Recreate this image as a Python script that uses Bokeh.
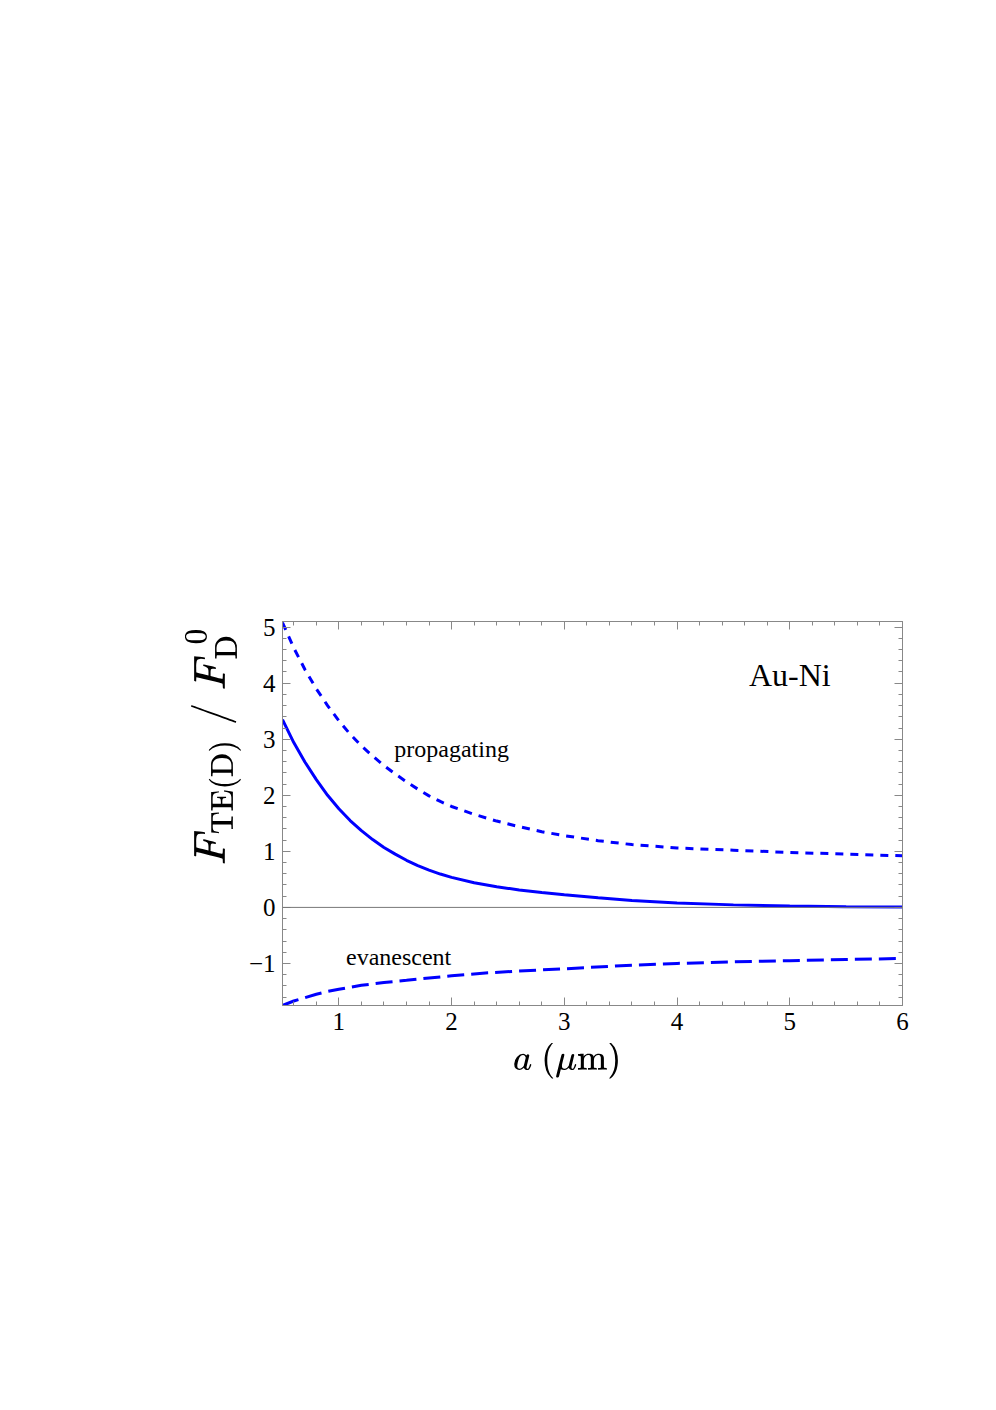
from bokeh.plotting import figure
from bokeh.models import Range1d, FixedTicker, LinearAxis, Span, Label, TeX
from bokeh.embed import file_html
from bokeh.resources import INLINE

# ---- data ----
a_total = [0.5, 0.6, 0.7, 0.8, 0.9, 1.0, 1.1, 1.2, 1.3, 1.4, 1.5, 1.6, 1.7, 1.8, 1.9, 2.0, 2.2, 2.4, 2.6, 2.8, 3.0, 3.3, 3.6, 4.0, 4.5, 5.0, 5.5, 6.0]
f_total = [3.35, 2.94, 2.59, 2.28, 2.00, 1.76, 1.55, 1.37, 1.21, 1.07, 0.95, 0.84, 0.745, 0.665, 0.595, 0.535, 0.44, 0.37, 0.31, 0.265, 0.225, 0.17, 0.125, 0.08, 0.045, 0.025, 0.013, 0.007]

a_prop = [0.5, 0.6, 0.7, 0.8, 0.9, 1.0, 1.1, 1.2, 1.3, 1.4, 1.5, 1.6, 1.7, 1.8, 1.9, 2.0, 2.2, 2.4, 2.6, 2.8, 3.0, 3.3, 3.6, 4.0, 4.5, 5.0, 5.5, 6.0]
f_prop = [5.08, 4.63, 4.24, 3.90, 3.60, 3.33, 3.09, 2.88, 2.70, 2.53, 2.38, 2.24, 2.11, 1.99, 1.89, 1.80, 1.66, 1.54, 1.44, 1.35, 1.28, 1.19, 1.12, 1.06, 1.02, 0.98, 0.95, 0.92]

a_evan = [0.5, 0.6, 0.7, 0.8, 0.9, 1.0, 1.2, 1.4, 1.6, 1.8, 2.0, 2.3, 2.6, 3.0, 3.5, 4.0, 4.5, 5.0, 5.5, 6.0]
f_evan = [-1.75, -1.67, -1.61, -1.55, -1.50, -1.46, -1.39, -1.34, -1.30, -1.26, -1.22, -1.17, -1.135, -1.095, -1.04, -1.00, -0.97, -0.95, -0.93, -0.91]

x_ticks = [1, 2, 3, 4, 5, 6]
y_ticks = [-1, 0, 1, 2, 3, 4, 5]
y_tick_labels = {-1: "\u22121", 0: "0", 1: "1", 2: "2", 3: "3", 4: "4", 5: "5"}

FONT = "Liberation Serif"
BLUE = "#0000ff"
GRAY = "#888888"

p = figure(output_backend="svg", toolbar_location=None,
           x_range=Range1d(0.5, 6.0), y_range=Range1d(-1.75, 5.1),
           frame_width=620, frame_height=384,
           min_border_left=282, min_border_top=621, min_border_right=20, min_border_bottom=100,
           x_axis_location=None, y_axis_location=None)
p.grid.visible = False
p.outline_line_color = GRAY
p.outline_line_width = 1
p.background_fill_color = "white"
p.border_fill_color = "white"

x_minor = [round(0.6 + 0.2 * i, 2) for i in range(28) if round(0.6 + 0.2 * i, 2) <= 6.0]
y_minor = [round(-1.6 + 0.2 * i, 2) for i in range(34) if round(-1.6 + 0.2 * i, 2) <= 5.1]


def style_axis(ax, show_labels):
    ax.axis_line_color = GRAY
    ax.major_tick_line_color = GRAY
    ax.minor_tick_line_color = GRAY
    ax.major_tick_in = 8
    ax.major_tick_out = 0
    ax.minor_tick_in = 4
    ax.minor_tick_out = 0
    ax.major_label_text_font = FONT
    ax.major_label_text_font_size = "25px"
    ax.major_label_text_color = "black" if show_labels else None
    ax.major_label_standoff = 7


xb = LinearAxis(ticker=FixedTicker(ticks=x_ticks, minor_ticks=x_minor))
style_axis(xb, True)
xb.axis_label = TeX(r"a\ (\mu\mathrm{m})\hspace{1.4em}")
xb.axis_label_text_font_size = "30px"
xb.axis_label_text_color = "black"
xb.axis_label_standoff = 10
p.add_layout(xb, "below")

xt = LinearAxis(ticker=FixedTicker(ticks=x_ticks, minor_ticks=x_minor))
style_axis(xt, False)
p.add_layout(xt, "above")

yl = LinearAxis(ticker=FixedTicker(ticks=y_ticks, minor_ticks=y_minor))
style_axis(yl, True)
yl.major_label_overrides = y_tick_labels
yl.axis_label = TeX(r"\hspace{3.0em}F_{\mathrm{TE(D)}}\;/\;F_{\mathrm{D}}^{\,0}")
yl.axis_label_text_font_size = "36px"
yl.axis_label_text_color = "black"
yl.axis_label_standoff = 5
p.add_layout(yl, "left")

yr = LinearAxis(ticker=FixedTicker(ticks=y_ticks, minor_ticks=y_minor))
style_axis(yr, False)
p.add_layout(yr, "right")

p.add_layout(Span(location=0, dimension="width", line_color="#777777", line_width=1))

p.line(a_prop, f_prop, line_color=BLUE, line_width=3, line_dash="8 7")
p.line(a_total, f_total, line_color=BLUE, line_width=3)
p.line(a_evan, f_evan, line_color=BLUE, line_width=3, line_dash="17 7")

p.add_layout(Label(x=5.0, y=4.14, text="Au-Ni", text_align="center", text_baseline="alphabetic",
                   text_font=FONT, text_font_size="32px", text_color="black"))
p.add_layout(Label(x=2.0, y=2.82, text="propagating", text_align="center", text_baseline="alphabetic",
                   text_font=FONT, text_font_size="24px", text_color="black"))
p.add_layout(Label(x=1.53, y=-0.88, text="evanescent", text_align="center", text_baseline="alphabetic",
                   text_font=FONT, text_font_size="24px", text_color="black"))

open("out.html", "w").write(file_html(p, INLINE))
